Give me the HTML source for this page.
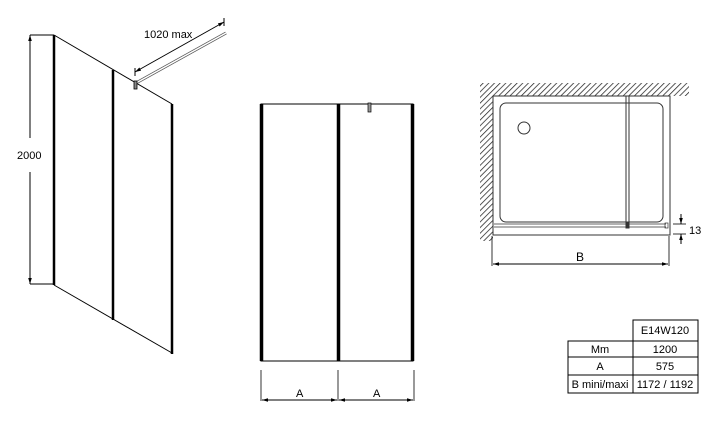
<!DOCTYPE html>
<html><head><style>
body{margin:0;background:#fff;}
svg{display:block;font-family:"Liberation Sans",Arial,sans-serif;}
</style></head><body>
<svg width="720" height="422" viewBox="0 0 720 422" xmlns="http://www.w3.org/2000/svg">
<defs>
<pattern id="h" width="4" height="4" patternUnits="userSpaceOnUse" patternTransform="rotate(45)">
<rect width="4" height="4" fill="#fff"/><line x1="0" y1="0" x2="0" y2="4" stroke="#222" stroke-width="1.5"/>
</pattern>
<marker id="ar" viewBox="0 0 10 10" refX="10" refY="5" markerWidth="8" markerHeight="6" orient="auto-start-reverse"><path d="M0,2 L10,5 L0,8z" fill="#000"/></marker>
</defs>
<!-- Left iso view -->
<g stroke="#000">
<line x1="30" y1="35" x2="30" y2="138" stroke-width="1" marker-start="url(#ar)"/>
<line x1="30" y1="172" x2="30" y2="284" stroke-width="1" marker-end="url(#ar)"/>
<line x1="30" y1="35" x2="54" y2="35" stroke-width="1"/>
<line x1="30" y1="284" x2="54" y2="284" stroke-width="1"/>
<line x1="54" y1="35" x2="172" y2="104" stroke-width="1"/>
<line x1="54" y1="285" x2="172" y2="353" stroke-width="1"/>
<line x1="54" y1="35" x2="54" y2="285" stroke-width="2.5"/>
<line x1="113" y1="70" x2="113" y2="320" stroke-width="2.5"/>
<line x1="172" y1="104" x2="172" y2="354" stroke-width="2.5"/>
<line x1="136" y1="83" x2="226" y2="33" stroke-width="3" stroke="#555"/>
<line x1="136" y1="83" x2="226" y2="33" stroke-width="1.4" stroke="#fff"/>
<line x1="135" y1="72" x2="224" y2="22" stroke-width="1" marker-start="url(#ar)" marker-end="url(#ar)"/>
<line x1="135" y1="68" x2="135" y2="76" stroke-width="1"/>
<line x1="224" y1="18" x2="224" y2="26" stroke-width="1"/>
<rect x="134" y="81" width="3" height="8" fill="#888" stroke-width="0.8"/>
</g>
<text x="17" y="159" font-size="11">2000</text>
<text x="144" y="38" font-size="11">1020 max</text>
<!-- Front view -->
<g stroke="#000">
<rect x="261" y="104" width="152" height="257" fill="none" stroke-width="1"/>
<line x1="261.5" y1="104" x2="261.5" y2="361" stroke-width="3.5"/>
<line x1="338.5" y1="104" x2="338.5" y2="361" stroke-width="3.5"/>
<line x1="412.5" y1="104" x2="412.5" y2="361" stroke-width="3.5"/>
<rect x="368" y="103" width="3" height="9" fill="#999" stroke-width="0.7"/>
<line x1="261" y1="370" x2="261" y2="401" stroke-width="0.8"/>
<line x1="338" y1="370" x2="338" y2="401" stroke-width="0.8"/>
<line x1="414" y1="370" x2="414" y2="401" stroke-width="0.8"/>
<line x1="262" y1="400" x2="337" y2="400" stroke-width="1" marker-start="url(#ar)" marker-end="url(#ar)"/>
<line x1="339" y1="400" x2="413" y2="400" stroke-width="1" marker-start="url(#ar)" marker-end="url(#ar)"/>
</g>
<text x="296" y="397" font-size="11">A</text>
<text x="373" y="397" font-size="11">A</text>
<!-- Plan view -->
<rect x="480" y="83" width="209" height="13" fill="url(#h)"/>
<rect x="480" y="83" width="13" height="158" fill="url(#h)"/>
<g stroke="#333" fill="none">
<rect x="493" y="96" width="177" height="139" stroke-width="1"/>
<rect x="500" y="103" width="163" height="119" rx="6" stroke-width="1"/>
<circle cx="524" cy="128" r="6" stroke-width="1"/>
<line x1="626" y1="96" x2="626" y2="226" stroke-width="1"/>
<line x1="629" y1="96" x2="629" y2="226" stroke-width="1"/>
<line x1="494" y1="224" x2="666" y2="224" stroke-width="0.8"/>
<line x1="494" y1="227" x2="666" y2="227" stroke-width="0.8"/>
<rect x="665" y="223" width="3" height="5" stroke-width="0.7"/>
<rect x="626" y="223" width="3" height="5" fill="#333"/>
</g>
<g stroke="#000">
<line x1="492" y1="236" x2="492" y2="266" stroke-width="0.8"/>
<line x1="669" y1="236" x2="669" y2="266" stroke-width="0.8"/>
<line x1="493" y1="264" x2="668" y2="264" stroke-width="1" marker-start="url(#ar)" marker-end="url(#ar)"/>
<line x1="673" y1="224" x2="686" y2="224" stroke-width="0.8"/>
<line x1="673" y1="234" x2="686" y2="234" stroke-width="0.8"/>
<line x1="681" y1="214" x2="681" y2="224" stroke-width="1" marker-end="url(#ar)"/>
<line x1="681" y1="244" x2="681" y2="234" stroke-width="1" marker-end="url(#ar)"/>
</g>
<text x="576" y="261" font-size="12">B</text>
<text x="689" y="234" font-size="11">13</text>
<!-- Table -->
<g stroke="#000" stroke-width="1" fill="none">
<rect x="633" y="320" width="65" height="73"/>
<rect x="568" y="341" width="130" height="52"/>
<line x1="568" y1="357" x2="698" y2="357"/>
<line x1="568" y1="375" x2="698" y2="375"/>
</g>
<g font-size="11" text-anchor="middle">
<text x="665" y="334">E14W120</text>
<text x="600" y="353">Mm</text><text x="665" y="353">1200</text>
<text x="600" y="370">A</text><text x="665" y="370">575</text>
<text x="600" y="388">B mini/maxi</text><text x="665" y="388">1172 / 1192</text>
</g>
</svg>
</body></html>
